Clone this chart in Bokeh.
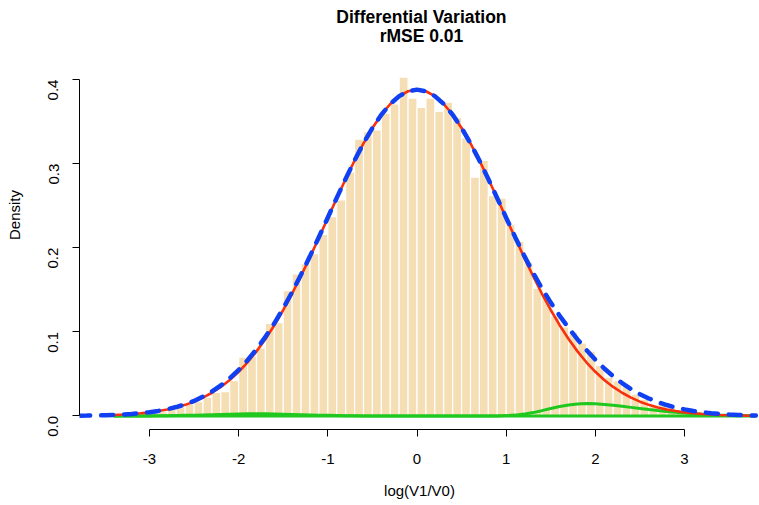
import math
from bokeh.plotting import figure
from bokeh.models import Range1d, FixedTicker, Label
from bokeh.embed import file_html
from bokeh.resources import INLINE

title_lines = ["Differential Variation", "rMSE 0.01"]
x_label = "log(V1/V0)"
y_label = "Density"
x_ticks = [-3, -2, -1, 0, 1, 2, 3]
y_ticks = [0.0, 0.1, 0.2, 0.3, 0.4]

bin_edges = [-3.3, -3.2, -3.1, -3.0, -2.9, -2.8, -2.7, -2.6, -2.5, -2.4, -2.3, -2.2, -2.1,
             -2.0, -1.9, -1.8, -1.7, -1.6, -1.5, -1.4, -1.3, -1.2, -1.1, -1.0, -0.9, -0.8,
             -0.7, -0.6, -0.5, -0.4, -0.3, -0.2, -0.1, 0.0, 0.1, 0.2, 0.3, 0.4, 0.5, 0.6,
             0.7, 0.8, 0.9, 1.0, 1.1, 1.2, 1.3, 1.4, 1.5, 1.6, 1.7, 1.8, 1.9, 2.0, 2.1,
             2.2, 2.3, 2.4, 2.5, 2.6, 2.7, 2.8, 2.9, 3.0, 3.1, 3.2]
density = [0.001, 0.002, 0.003, 0.004, 0.005, 0.008, 0.011, 0.014, 0.017, 0.022, 0.028,
           0.029, 0.042, 0.070, 0.071, 0.081, 0.110, 0.111, 0.149, 0.169, 0.181, 0.193,
           0.216, 0.237, 0.257, 0.290, 0.329, 0.338, 0.340, 0.360, 0.371, 0.403, 0.378,
           0.367, 0.378, 0.362, 0.373, 0.355, 0.331, 0.284, 0.304, 0.262, 0.259, 0.228,
           0.208, 0.183, 0.152, 0.143, 0.119, 0.106, 0.100, 0.087, 0.077, 0.060, 0.046,
           0.042, 0.035, 0.026, 0.020, 0.013, 0.017, 0.010, 0.007, 0.004, 0.002]

x_fit = [-3.8, -3.7, -3.6, -3.5, -3.4, -3.3, -3.2, -3.1, -3.0, -2.9, -2.8, -2.7, -2.6, -2.5,
         -2.4, -2.3, -2.2, -2.1, -2.0, -1.9, -1.8, -1.7, -1.6, -1.5, -1.4, -1.3, -1.2, -1.1,
         -1.0, -0.9, -0.8, -0.7, -0.6, -0.5, -0.4, -0.3, -0.2, -0.1, 0.0, 0.1, 0.2, 0.3,
         0.4, 0.5, 0.6, 0.7, 0.8, 0.9, 1.0, 1.1, 1.2, 1.3, 1.4, 1.5, 1.6, 1.7, 1.8, 1.9,
         2.0, 2.1, 2.2, 2.3, 2.4, 2.5, 2.6, 2.7, 2.8, 2.9, 3.0, 3.1, 3.2, 3.3, 3.4, 3.5,
         3.6, 3.7, 3.8]
fit_total = [0.0003, 0.0004, 0.0006, 0.0008, 0.0012, 0.0017, 0.0024, 0.0033, 0.0044, 0.0060,
             0.0080, 0.0106, 0.0139, 0.0179, 0.0230, 0.0291, 0.0363, 0.0449, 0.0548, 0.0663,
             0.0793, 0.0940, 0.1102, 0.1281, 0.1474, 0.1682, 0.1901, 0.2128, 0.2360, 0.2593,
             0.2820, 0.3039, 0.3242, 0.3425, 0.3582, 0.3709, 0.3803, 0.3861, 0.3880, 0.3861,
             0.3803, 0.3709, 0.3582, 0.3424, 0.3241, 0.3037, 0.2817, 0.2589, 0.2357, 0.2129,
             0.1911, 0.1707, 0.1519, 0.1348, 0.1191, 0.1046, 0.0911, 0.0785, 0.0669, 0.0565,
             0.0472, 0.0391, 0.0320, 0.0259, 0.0208, 0.0165, 0.0130, 0.0101, 0.0078, 0.0059,
             0.0044, 0.0033, 0.0024, 0.0017, 0.0012, 0.0008, 0.0006]

x_comp = [-3.4, -3.3, -3.2, -3.1, -3.0, -2.9, -2.8, -2.7, -2.6, -2.5, -2.4, -2.3, -2.2, -2.1,
          -2.0, -1.9, -1.8, -1.7, -1.6, -1.5, -1.4, -1.3, -1.2, -1.1, -1.0, -0.9, -0.8, -0.7,
          -0.6, -0.5, -0.4, -0.3, -0.2, -0.1, 0.0, 0.1, 0.2, 0.3, 0.4, 0.5, 0.6, 0.7, 0.8,
          0.9, 1.0, 1.1, 1.2, 1.3, 1.4, 1.5, 1.6, 1.7, 1.8, 1.9, 2.0, 2.1, 2.2, 2.3, 2.4,
          2.5, 2.6, 2.7, 2.8, 2.9, 3.0, 3.1, 3.2, 3.3, 3.4, 3.5, 3.6, 3.7, 3.8]
comp_main = [0.0012, 0.0017, 0.0023, 0.0032, 0.0043, 0.0058, 0.0077, 0.0101, 0.0132, 0.0170,
             0.0218, 0.0276, 0.0345, 0.0428, 0.0525, 0.0638, 0.0768, 0.0915, 0.1079, 0.1260,
             0.1456, 0.1667, 0.1889, 0.2119, 0.2353, 0.2588, 0.2817, 0.3037, 0.3241, 0.3424,
             0.3582, 0.3709, 0.3803, 0.3861, 0.3880, 0.3861, 0.3803, 0.3709, 0.3582, 0.3424,
             0.3241, 0.3037, 0.2817, 0.2588, 0.2353, 0.2119, 0.1889, 0.1667, 0.1456, 0.1260,
             0.1079, 0.0915, 0.0768, 0.0638, 0.0525, 0.0428, 0.0345, 0.0276, 0.0218, 0.0170,
             0.0132, 0.0101, 0.0077, 0.0058, 0.0043, 0.0032, 0.0023, 0.0017, 0.0012, 0.0008,
             0.0006, 0.0004, 0.0003]
comp_left = [0.0, 0.0, 0.0001, 0.0001, 0.0001, 0.0002, 0.0003, 0.0005, 0.0007, 0.0009,
             0.0012, 0.0015, 0.0018, 0.0021, 0.0023, 0.0025, 0.0025, 0.0025, 0.0023, 0.0021,
             0.0018, 0.0015, 0.0012, 0.0009, 0.0007, 0.0005, 0.0003, 0.0002, 0.0001, 0.0001,
             0.0, 0.0, 0.0, 0.0, 0.0, 0.0, 0.0, 0.0, 0.0, 0.0,
             0.0, 0.0, 0.0, 0.0, 0.0, 0.0, 0.0, 0.0, 0.0, 0.0,
             0.0, 0.0, 0.0, 0.0, 0.0, 0.0, 0.0, 0.0, 0.0, 0.0,
             0.0, 0.0, 0.0, 0.0, 0.0, 0.0, 0.0, 0.0, 0.0, 0.0,
             0.0, 0.0, 0.0]
comp_right = [0.0, 0.0, 0.0, 0.0, 0.0, 0.0, 0.0, 0.0, 0.0, 0.0,
              0.0, 0.0, 0.0, 0.0, 0.0, 0.0, 0.0, 0.0, 0.0, 0.0,
              0.0, 0.0, 0.0, 0.0, 0.0, 0.0, 0.0, 0.0, 0.0, 0.0,
              0.0, 0.0, 0.0, 0.0, 0.0, 0.0, 0.0, 0.0, 0.0, 0.0,
              0.0, 0.0, 0.0,
              0.0001, 0.0004, 0.0010, 0.0022, 0.0040, 0.0063, 0.0088, 0.0112, 0.0131, 0.0143,
              0.0147, 0.0144, 0.0137, 0.0127, 0.0115, 0.0102, 0.0089, 0.0076, 0.0064, 0.0053,
              0.0043, 0.0035, 0.0027, 0.0021, 0.0016, 0.0012, 0.0009, 0.0006, 0.0004, 0.0003]

FONT = "Liberation Sans"

# the frame reaches the top of the page so that the title can sit inside it;
# the axis bounds keep the y axis drawn only from 0 to 0.4
p = figure(width=759, height=505, output_backend="svg", toolbar_location=None,
           x_range=Range1d(-3.785, 3.841), y_range=Range1d(-0.0161, 0.494),
           min_border_left=79, min_border_right=0, min_border_top=0, min_border_bottom=76)
p.outline_line_color = None
p.background_fill_color = "white"
p.border_fill_color = "white"
p.grid.visible = False

p.quad(left=bin_edges[:-1], right=bin_edges[1:], bottom=0, top=density,
       fill_color="#F5DEB3", line_color="white", line_width=1.2)

p.line(x_comp, comp_left, line_color="#1EC81E", line_width=3)
p.line(x_comp, comp_right, line_color="#1EC81E", line_width=3)
p.line(x_comp, comp_main, line_color="#F8300E", line_width=2.6)
p.line(x_fit, fit_total, line_color="#1040F2", line_width=4.5, line_dash="12 11",
       line_cap="round")

# axes in R base style
xa = p.xaxis[0]
xa.bounds = (x_ticks[0], x_ticks[-1])
xa.ticker = FixedTicker(ticks=x_ticks)
xa.major_label_overrides = {t: str(t) for t in x_ticks}
ya = p.yaxis[0]
ya.bounds = (y_ticks[0], y_ticks[-1])
ya.ticker = FixedTicker(ticks=y_ticks)
ya.major_label_overrides = {t: "%.1f" % t for t in y_ticks}
ya.major_label_orientation = math.pi / 2

for ax in (xa, ya):
    ax.minor_tick_line_color = None
    ax.major_tick_in = 0
    ax.major_tick_out = 7
    ax.axis_line_color = "black"
    ax.major_tick_line_color = "black"
    ax.major_label_text_font = FONT
    ax.major_label_text_font_size = "15px"
    ax.major_label_text_color = "black"
    ax.axis_label_text_font = FONT
    ax.axis_label_text_font_size = "15px"
    ax.axis_label_text_font_style = "normal"
    ax.axis_label_text_color = "black"

xa.axis_label = x_label
xa.major_label_standoff = 17
xa.axis_label_standoff = 15
ya.axis_label = y_label
ya.major_label_standoff = 19
ya.axis_label_standoff = 18

# two-line bold title above the plot region
title_y = [0.4742, 0.4512]
for txt, ty in zip(title_lines, title_y):
    p.add_layout(Label(x=0.05, y=ty, text=txt, text_align="center", text_baseline="middle",
                       text_font=FONT, text_font_size="17.5px", text_font_style="bold",
                       text_color="black"))

open("out.html", "w").write(file_html(p, INLINE))
